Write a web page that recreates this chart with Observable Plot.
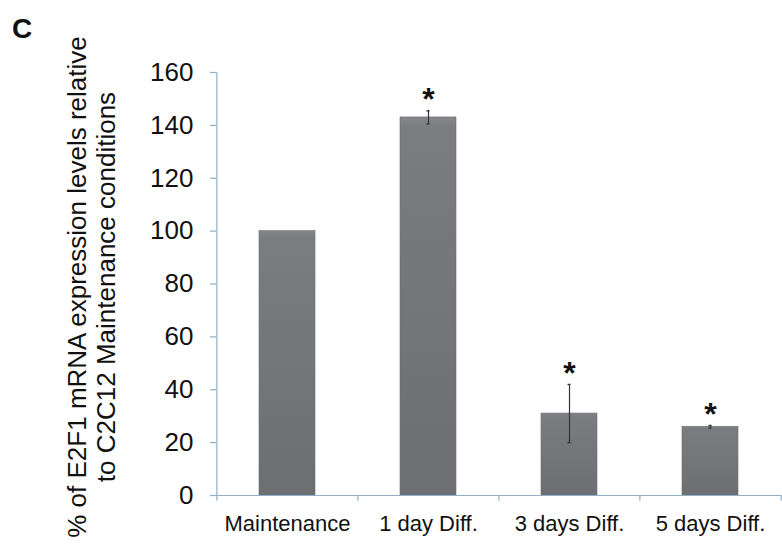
<!DOCTYPE html>
<html>
<head>
<meta charset="utf-8">
<script src="https://cdn.jsdelivr.net/npm/d3@7"></script>
<script src="https://cdn.jsdelivr.net/npm/@observablehq/plot@0.6"></script>
<style>
  html, body { margin: 0; padding: 0; background: #fff; }
  #chart { position: relative; width: 782px; height: 544px; }
  #panel { position: absolute; left: 12px; top: 13px; font: bold 28px "Liberation Sans", Arial, sans-serif; color: #111; }
</style>
</head>
<body>
<div id="chart"><div id="panel">C</div></div>
<script>
const categories = ["Maintenance", "1 day Diff.", "3 days Diff.", "5 days Diff."];
const values = [100, 143, 31, 26];
const errors = [0, 2.5, 11, 0.5];
const significant = [false, true, true, true];
const yTicks = [0, 20, 40, 60, 80, 100, 120, 140, 160];
const yLabel = "% of E2F1 mRNA expression levels relative\nto C2C12 Maintenance conditions";

const data = categories.map((c, i) => ({
  cat: c, value: values[i], err: errors[i], sig: significant[i],
  lo: values[i] - errors[i], hi: values[i] + errors[i]
}));

const marginLeft = 216, marginRight = 1, width = 782;
const step = (width - marginLeft - marginRight) / categories.length;
const half = step / 2;
const axisColor = "#8fb0c8";
const withErr = data.filter(d => d.err > 0);

const plot = Plot.plot({
  width, height: 544,
  marginLeft, marginRight, marginTop: 72, marginBottom: 49,
  style: { fontFamily: "'Liberation Sans', Arial, sans-serif", color: "#111", background: "transparent" },
  x: { domain: categories, paddingInner: 0.6, paddingOuter: 0.3, axis: null },
  y: { domain: [0, 160], axis: null },
  marks: [
    // bars
    Plot.barY(data, { x: "cat", y: "value", fill: "url(#barGrad)", stroke: "#6c6e72", strokeWidth: 0.6 }),
    // error bars
    Plot.ruleX(withErr, { x: "cat", y1: "lo", y2: "hi", stroke: "#333", strokeWidth: 1.2 }),
    Plot.ruleY(withErr, { x1: "cat", x2: "cat", y: "hi", stroke: "#333", strokeWidth: 1.4, insetLeft: 26.5, insetRight: 26.5 }),
    Plot.ruleY(withErr, { x1: "cat", x2: "cat", y: "lo", stroke: "#333", strokeWidth: 1.4, insetLeft: 26.5, insetRight: 26.5 }),
    // significance asterisks
    Plot.text(data.filter(d => d.sig), { x: "cat", y: "hi", text: () => "*", fontSize: 32, fontWeight: "bold", lineAnchor: "middle", dy: -11, fill: "#111" }),
    // axis lines
    Plot.ruleY([0], { stroke: axisColor, strokeWidth: 1.2 }),
    Plot.ruleX([categories[0]], { y1: 0, y2: 160, dx: -half, stroke: axisColor, strokeWidth: 1.2 }),
    // y axis ticks and labels
    Plot.axisY(yTicks, { tickSize: 6, tickPadding: 17, fontSize: 26, stroke: axisColor, strokeWidth: 1.2, fill: "#111", label: null }),
    // x boundary ticks
    Plot.ruleX(categories, { x: d => d, y1: 0, y2: -2.2, dx: -half, stroke: axisColor, strokeWidth: 1.2 }),
    Plot.ruleX([categories[categories.length - 1]], { y1: 0, y2: -2.2, dx: half, stroke: axisColor, strokeWidth: 1.2 }),
    // x category labels
    Plot.text(categories, { x: d => d, y: 0, text: d => d, dy: 28, fontSize: 22, fill: "#111" }),
    // y-axis title
    Plot.text([yLabel], { frameAnchor: "left", text: d => d, textAnchor: "middle", rotate: -90, dx: -125, dy: 3, fontSize: 26, lineHeight: 1.08, fill: "#111" })
  ]
});

const svg = d3.select(plot);
const defs = svg.insert("defs", ":first-child");
const g = defs.append("linearGradient").attr("id", "barGrad").attr("x1", 0).attr("y1", 0).attr("x2", 0).attr("y2", 1);
g.append("stop").attr("offset", "0%").attr("stop-color", "#84868a");
g.append("stop").attr("offset", "3%").attr("stop-color", "#7a7c80");
g.append("stop").attr("offset", "100%").attr("stop-color", "#6c6e72");
plot.style.position = "absolute";
plot.style.left = "0";
plot.style.top = "0";
document.getElementById("chart").appendChild(plot);
document.getElementById("chart").appendChild(document.getElementById("panel"));
</script>
</body>
</html>
